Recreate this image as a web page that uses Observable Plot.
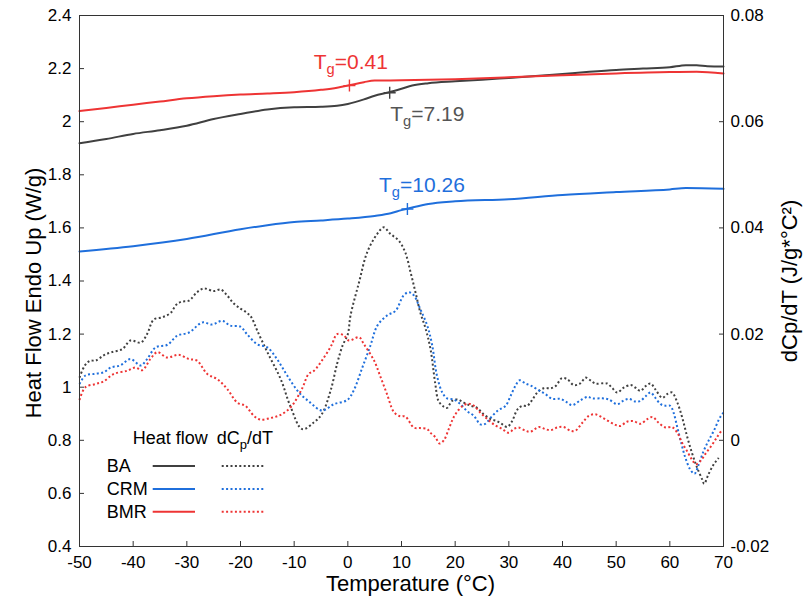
<!DOCTYPE html>
<html>
<head>
<meta charset="utf-8">
<script src="https://cdn.jsdelivr.net/npm/d3@7"></script>
<script src="https://cdn.jsdelivr.net/npm/@observablehq/plot@0.6"></script>
<style>
  html, body { margin: 0; padding: 0; background: #fff; }
</style>
</head>
<body>
<div id="chart"></div>
<script>
// ---------- data ----------
const seriesNames = ["BA", "CRM", "BMR"];
const xTicks = [-50, -40, -30, -20, -10, 0, 10, 20, 30, 40, 50, 60, 70];
const heatTicks = [0.4, 0.6, 0.8, 1.0, 1.2, 1.4, 1.6, 1.8, 2.0, 2.2, 2.4];
const dcpTicks = [-0.02, 0, 0.02, 0.04, 0.06, 0.08];
const heatDomain = [0.4, 2.4];
const dcpDomain = [-0.02, 0.08];

// Heat flow (W/g) : [temperature, value]
const heatBA = [[-50,1.919],[-45,1.935],[-40,1.954],[-35,1.968],[-30,1.985],[-25,2.01],[-20,2.029],[-15,2.046],[-10,2.054],[-5,2.056],[-2,2.06],[0,2.067],[3,2.084],[5,2.098],[7.5,2.11],[10,2.124],[12,2.136],[15,2.145],[20,2.152],[25,2.158],[30,2.165],[35,2.172],[40,2.18],[45,2.188],[50,2.195],[55,2.2],[60,2.205],[63,2.213],[65,2.213],[67,2.209],[70,2.208]];
const heatCRM = [[-50,1.511],[-40,1.531],[-30,1.558],[-20,1.595],[-15,1.61],[-10,1.622],[-5,1.628],[0,1.635],[5,1.645],[8,1.655],[10,1.667],[12,1.677],[15,1.69],[20,1.70],[30,1.708],[40,1.724],[50,1.735],[60,1.745],[63,1.75],[70,1.747]];
const heatBMR = [[-50,2.04],[-45,2.052],[-40,2.064],[-35,2.076],[-30,2.088],[-25,2.096],[-20,2.102],[-15,2.106],[-10,2.111],[-5,2.12],[-2,2.128],[0,2.136],[3,2.149],[5,2.155],[10,2.156],[20,2.16],[30,2.167],[40,2.175],[50,2.182],[60,2.187],[65,2.188],[70,2.182]];

// dCp/dT (J/g*°C²) : [temperature, value]
const dcpBA = [[-50,0.0118],[-49,0.0141],[-48,0.0150],[-47,0.0150],[-45.5,0.0160],[-44,0.0166],[-42,0.0172],[-40.5,0.0188],[-38.6,0.0184],[-37.4,0.0200],[-36.2,0.0227],[-34.5,0.0232],[-33,0.0240],[-32,0.0255],[-31,0.0261],[-29.6,0.0263],[-28.1,0.0279],[-26.8,0.0286],[-25,0.0281],[-23.7,0.0284],[-22.5,0.0273],[-21.2,0.0257],[-20,0.0248],[-18.8,0.0240],[-18,0.0232],[-16.9,0.0207],[-15,0.0166],[-12.5,0.0115],[-10.7,0.0064],[-8.5,0.0021],[-6.3,0.0034],[-4.8,0.0050],[-3.2,0.0094],[-2,0.0144],[-1,0.0178],[0,0.0200],[0.5,0.0235],[2.1,0.0298],[3.6,0.0354],[5.5,0.0389],[6.7,0.0401],[7.9,0.0389],[9.5,0.0376],[10.7,0.0354],[11.7,0.0316],[12.6,0.0279],[13.5,0.0241],[14.5,0.0210],[15.4,0.0172],[16.3,0.0106],[16.9,0.0074],[17.9,0.0063],[18.5,0.0061],[19.4,0.0074],[20.4,0.0077],[21.6,0.0071],[22.9,0.0065],[24.1,0.0061],[25.3,0.0049],[26.6,0.0040],[27.8,0.0036],[28.8,0.0030],[29.7,0.0025],[30.6,0.0036],[31.6,0.0058],[32.5,0.0065],[33.4,0.0065],[34.3,0.0075],[35.3,0.0090],[36.5,0.0098],[37.8,0.0098],[38.7,0.0102],[39.9,0.0117],[40.9,0.0115],[42.1,0.0104],[43.3,0.0107],[44.3,0.0118],[45.2,0.0113],[46.1,0.0107],[48.3,0.0107],[49.3,0.0098],[50.2,0.0090],[51.4,0.0099],[52.7,0.0104],[53.6,0.0099],[54.5,0.0093],[55.5,0.0102],[56.4,0.0107],[57.3,0.0096],[58.6,0.0080],[59.5,0.0087],[60.4,0.0090],[61.4,0.0071],[62.3,0.0043],[63.2,0.0008],[64.1,-0.0023],[65.1,-0.0052],[66,-0.0073],[66.4,-0.0082],[67.2,-0.0064],[68.2,-0.0045],[69.1,-0.0033]];
const dcpCRM = [[-50,0.0106],[-48.9,0.0122],[-47.3,0.0125],[-45.5,0.0128],[-44.2,0.0137],[-42.4,0.0141],[-40.5,0.0153],[-38.6,0.0141],[-37.4,0.0153],[-35.8,0.0175],[-33.6,0.0180],[-31.8,0.0197],[-29.6,0.0203],[-27.1,0.0222],[-25.3,0.0218],[-23.4,0.0225],[-21.9,0.0216],[-20,0.0214],[-18.8,0.0200],[-16.9,0.0181],[-15,0.0175],[-13.2,0.0153],[-11.3,0.0122],[-9.1,0.0090],[-7,0.0071],[-4.8,0.0056],[-2.6,0.0068],[-0.1,0.0076],[1.1,0.0094],[2.7,0.0137],[4.2,0.0178],[5.5,0.0216],[7.3,0.0235],[8.9,0.0244],[10.4,0.0273],[11.4,0.0279],[12.3,0.0273],[13.5,0.0247],[14.8,0.0216],[15.7,0.0180],[16.6,0.0122],[17.6,0.0090],[18.5,0.0079],[19.7,0.0077],[21,0.0068],[22.2,0.0055],[23.5,0.0046],[24.7,0.0030],[25.6,0.0031],[26.9,0.0046],[28.1,0.0057],[29.4,0.0065],[30.3,0.0083],[31.2,0.0102],[32,0.0113],[33.1,0.0107],[34.3,0.0102],[35.6,0.0094],[36.8,0.0087],[38.1,0.0078],[39.6,0.0078],[40.9,0.0071],[41.8,0.0066],[43.3,0.0075],[44.7,0.0082],[45.5,0.0079],[47.4,0.0079],[48.6,0.0077],[50.2,0.0068],[51.4,0.0075],[52.4,0.0078],[53.6,0.0073],[54.5,0.0074],[55.5,0.0083],[56.4,0.0090],[57.3,0.0080],[58.3,0.0068],[59.2,0.0065],[60.1,0.0065],[60.7,0.0052],[61.4,0.0024],[62.2,-0.0008],[62.9,-0.0033],[63.8,-0.0055],[64.6,-0.0063],[65.4,-0.0045],[66.3,-0.0020],[67.2,-0.0001],[68.2,0.0018],[69.4,0.0044],[70,0.0052]];
const dcpBMR = [[-50,0.0076],[-48.9,0.0100],[-47,0.0106],[-45.5,0.0111],[-43.6,0.0125],[-41.1,0.0131],[-39.6,0.0137],[-38.3,0.0132],[-36.8,0.0153],[-35.5,0.0166],[-33.7,0.0156],[-31.5,0.0161],[-29.6,0.0153],[-28.1,0.0150],[-26.2,0.0125],[-24.3,0.0115],[-22.5,0.0097],[-20.6,0.0071],[-19.1,0.0065],[-17.5,0.0046],[-16.3,0.0039],[-14.4,0.0042],[-12.5,0.0048],[-10.5,0.0064],[-8.5,0.0098],[-7.3,0.0125],[-6.3,0.0131],[-4.5,0.0155],[-3,0.0180],[-2,0.0200],[-0.8,0.0198],[0.2,0.0188],[2.1,0.0194],[3,0.0181],[4.9,0.0150],[6.1,0.0119],[7.3,0.0087],[8.6,0.0053],[9.8,0.0045],[10.7,0.0045],[12.3,0.0024],[13.5,0.0023],[14.8,0.0021],[15.4,0.0014],[16.3,0.0006],[17.1,-0.0006],[17.9,0.0000],[18.8,0.0021],[19.7,0.0043],[20.7,0.0058],[21.6,0.0066],[22.5,0.0069],[23.5,0.0065],[24.7,0.0052],[26,0.0040],[27.2,0.0030],[28.8,0.0021],[30,0.0014],[30.9,0.0021],[31.8,0.0024],[33.1,0.0018],[34,0.0016],[35.6,0.0025],[36.8,0.0021],[37.8,0.0019],[39,0.0024],[40.2,0.0025],[41.5,0.0018],[42.4,0.0018],[43.7,0.0033],[44.9,0.0046],[46.1,0.0049],[47.4,0.0043],[48.6,0.0036],[49.9,0.0029],[50.8,0.0027],[52,0.0035],[53.3,0.0036],[54.5,0.0031],[55.8,0.0040],[56.8,0.0044],[57.9,0.0033],[59.2,0.0024],[60.4,0.0025],[61.4,0.0014],[62.3,-0.0005],[63.2,-0.0020],[64.1,-0.0036],[64.9,-0.0045],[65.7,-0.0039],[66.6,-0.0026],[67.9,-0.0008],[68.8,0.0006],[69.6,0.0018]];

// Tg markers and their labels
const tgLabels = ["T_g=7.19", "T_g=10.26", "T_g=0.41"];
const tgMarkT = [7.8, 11.1, 0.3];
const tgMarkHeat = [2.109, 1.671, 2.136];

// ---------- styling / layout ----------
const FONT = "'Liberation Sans', Arial, Helvetica, sans-serif";
const seriesColors = ["#404040", "#1f6fdc", "#ee3434"];
const tgTextColors = ["#555555", "#1f6fdc", "#ee3434"];
const tgOffsets = [[0.5, 22], [-28.4, -23.3], [-35.7, -23.4]];
const AXIS = "#333";
const DOTS = "2,2.4";

const k = (heatDomain[1] - heatDomain[0]) / (dcpDomain[1] - dcpDomain[0]);
const toLeft = v => heatDomain[0] + (v - dcpDomain[0]) * k;
const toRight = v => dcpDomain[0] + (v - heatDomain[0]) / k;
const fmt = v => String(+(+v).toFixed(3));

const heatSeries = [heatBA, heatCRM, heatBMR];
const dcpSeries = [dcpBA, dcpCRM, dcpBMR];

const plusSymbol = {
  draw(ctx, size) {
    const r = Math.sqrt(size / Math.PI);
    ctx.moveTo(-r, 0); ctx.lineTo(r, 0);
    ctx.moveTo(0, -r); ctx.lineTo(0, r);
  }
};

const marks = [];
heatSeries.forEach((s, i) => {
  marks.push(Plot.line(s, {x: d => d[0], y: d => d[1], stroke: seriesColors[i], strokeWidth: 2, curve: "monotone-x"}));
});
dcpSeries.forEach((s, i) => {
  marks.push(Plot.line(s, {x: d => d[0], y: d => toLeft(d[1]), stroke: seriesColors[i], strokeWidth: 2, strokeDasharray: DOTS, strokeLinecap: "butt", curve: "catmull-rom"}));
});
tgLabels.forEach((lab, i) => {
  const row = [{T: tgMarkT[i], h: tgMarkHeat[i], label: lab}];
  marks.push(Plot.dot(row, {x: "T", y: "h", symbol: plusSymbol, r: 6, stroke: seriesColors[i], fill: "none", strokeWidth: 1.4}));
  marks.push(Plot.text(row, {x: "T", y: "h", text: "label", fill: tgTextColors[i], fontSize: 21, textAnchor: "start", lineAnchor: "middle", dx: tgOffsets[i][0], dy: tgOffsets[i][1]}));
});

const chart = Plot.plot({
  width: 804,
  height: 602,
  marginLeft: 79,
  marginRight: 81,
  marginTop: 15,
  marginBottom: 56,
  style: {fontFamily: FONT, fontSize: "17px", color: "#000", background: "#fff", overflow: "visible"},
  x: {domain: [xTicks[0], xTicks[xTicks.length - 1]], label: null},
  y: {domain: heatDomain, label: null},
  marks: [
    ...marks,
    Plot.axisX(xTicks, {tickSize: 0, tickPadding: 9, tickFormat: fmt, label: null, fontSize: 17}),
    Plot.axisX(xTicks, {tickSize: -5, fill: "none", stroke: AXIS, label: null}),
    Plot.axisY(heatTicks, {anchor: "left", tickSize: 0, tickPadding: 8, tickFormat: fmt, label: null, fontSize: 17}),
    Plot.axisY(heatTicks, {anchor: "left", tickSize: -5, fill: "none", stroke: AXIS, label: null}),
    Plot.axisY(dcpTicks.map(toLeft), {anchor: "right", tickSize: 0, tickPadding: 7, tickFormat: v => fmt(toRight(v)), label: null, fontSize: 17}),
    Plot.axisY(dcpTicks.map(toLeft), {anchor: "right", tickSize: -5, fill: "none", stroke: AXIS, label: null}),
    Plot.frame({stroke: AXIS, strokeWidth: 1}),
    Plot.text(["Temperature (°C)"], {frameAnchor: "bottom", text: d => d, textAnchor: "middle", lineAnchor: "middle", dx: 9, dy: 37, fontSize: 22}),
    Plot.text(["Heat Flow Endo Up (W/g)"], {frameAnchor: "left", text: d => d, textAnchor: "middle", lineAnchor: "middle", rotate: -90, dx: -46, dy: 12, fontSize: 22}),
    Plot.text(["dCp/dT (J/g*°C²)"], {frameAnchor: "right", text: d => d, textAnchor: "middle", lineAnchor: "middle", rotate: -90, dx: 66, dy: 0, fontSize: 22})
  ]
});

document.getElementById("chart").appendChild(chart);

// subscripts in Tg labels
const svg = d3.select(chart);
svg.selectAll("text").each(function () {
  const t = this.textContent;
  const m = t.match(/^(.*?)_(\w)(.*)$/);
  if (!m || this.children.length) return;
  const el = d3.select(this);
  el.text(null);
  el.append("tspan").text(m[1]);
  el.append("tspan").attr("font-size", "70%").attr("dy", 5).text(m[2]);
  el.append("tspan").attr("dy", -5).text(m[3]);
});

// legend
const lg = svg.append("g").attr("font-family", FONT).attr("font-size", 18).attr("fill", "#000").attr("text-anchor", "start");
lg.append("text").attr("x", 132.7).attr("y", 444).text("Heat flow");
const hdr = lg.append("text").attr("x", 216.7).attr("y", 444);
hdr.append("tspan").text("dC");
hdr.append("tspan").attr("font-size", 13).attr("dy", 5).text("p");
hdr.append("tspan").attr("dy", -5).text("/dT");
const legendY = [466, 489, 511.7];
seriesNames.forEach((n, i) => {
  const y = legendY[i];
  lg.append("text").attr("x", 106.7).attr("y", y + 6.3).text(n);
  lg.append("line").attr("x1", 152.7).attr("x2", 195).attr("y1", y).attr("y2", y)
    .attr("stroke", seriesColors[i]).attr("stroke-width", 2);
  lg.append("line").attr("x1", 221.7).attr("x2", 263.3).attr("y1", y).attr("y2", y)
    .attr("stroke", seriesColors[i]).attr("stroke-width", 2).attr("stroke-dasharray", DOTS);
});
</script>
</body>
</html>
